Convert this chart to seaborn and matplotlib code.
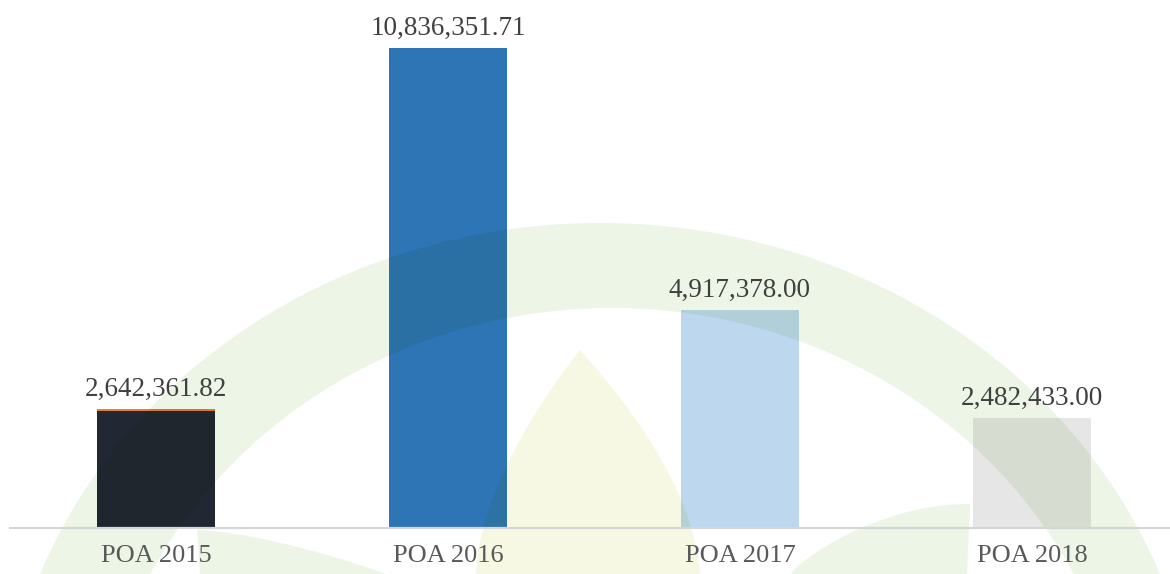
import numpy as np
import pandas as pd
import matplotlib
matplotlib.use("Agg")
import matplotlib.pyplot as plt
from matplotlib.patches import Polygon
from matplotlib.colors import to_rgb
import seaborn as sns

# ---- data ----
categories = ["POA 2015", "POA 2016", "POA 2017", "POA 2018"]
values = [2642361.82, 10836351.71, 4917378.00, 2482433.00]
top_segment = [45000, 0, 0, 0]   # thin orange segment on top of POA 2015
bar_colors = ["#212833", "#2E75B6", "#BDD7EE", "#E6E6E6"]
top_color = "#ED7D31"

W, H = 1170, 574
DPI = 100

sns.set_theme(style="white")
plt.rcParams['font.family'] = ['Liberation Serif', 'DejaVu Serif']

fig = plt.figure(figsize=(W / DPI, H / DPI), dpi=DPI)
fig.patch.set_facecolor("white")

# ---- watermark shapes (pixel coordinates, y downward) ----
green = (237 / 255, 245 / 255, 231 / 255)
yellow = (246 / 255, 248 / 255, 227 / 255)

def ell_arc(cx, cy, a, b, y_end, n=300):
    ang_end = np.arcsin((y_end - cy) / b)
    angs = np.linspace(np.pi - ang_end, 2 * np.pi + ang_end, n)
    return np.column_stack([cx + a * np.cos(angs), cy + b * np.sin(angs)])

outer = ell_arc(600, 771, 600, 548, 576)
inner = ell_arc(612, 800, 520, 492, 576)
band = np.vstack([outer, inner[::-1]])

s = np.linspace(0, 1, 80)
ll_top = np.column_stack([197 + 195 * s, 530 + 46 * s ** 1.5])
ll = np.vstack([ll_top, [[200, 576]]])
lr_top = np.column_stack([790 + 180 * s, 576 - 72 * np.sin(s * np.pi / 2) ** 0.75])
lr = np.vstack([lr_top, [[967, 576]]])
yy = np.linspace(350, 576, 120)
u = (yy - 350) / 226
left_x = 580 - 104 * (1 - (1 - u) ** 1.7)
right_x = 580 + 120 * (1 - (1 - u) ** 1.7)
leaf = np.vstack([np.column_stack([left_x, yy]), np.column_stack([right_x[::-1], yy[::-1]])])

shapes = [(band, green), (ll, green), (lr, green), (leaf, yellow)]

wm_bg = fig.add_axes([0, 0, 1, 1], zorder=0)
wm_bg.set_xlim(0, W)
wm_bg.set_ylim(H, 0)
wm_bg.axis("off")
for pts, col in shapes:
    wm_bg.add_patch(Polygon(pts, closed=True, facecolor=col, linewidth=0))

# ---- main chart ----
ax = fig.add_axes([10 / W, 46 / H, 1160 / W, 528 / H], zorder=1)
ax.patch.set_alpha(0)

df = pd.DataFrame({"cat": categories, "val": values})
sns.barplot(data=df, x="cat", y="val", hue="cat", palette=bar_colors,
            legend=False, width=0.404, saturation=1, linewidth=0, ax=ax, zorder=2)
ax.bar(np.arange(len(categories)), top_segment, bottom=values,
       width=0.404, color=top_color, zorder=2, linewidth=0)

ax.set_xlim(-0.5, 3.473)
ax.set_ylim(0, 11.92e6)
ax.set_xlabel("")
ax.set_ylabel("")
ax.set_yticks([])
for sp in ["top", "right", "left"]:
    ax.spines[sp].set_visible(False)
ax.spines["bottom"].set_color("#D6D6D6")
ax.spines["bottom"].set_linewidth(1.6)
ax.spines["bottom"].set_zorder(4)
ax.tick_params(axis="x", length=0, pad=12, labelsize=19, labelcolor="#595959")

for i, (v, t) in enumerate(zip(values, top_segment)):
    ax.annotate(f"{v:,.2f}", xy=(i, v + t), xytext=(0, 5), textcoords="offset points",
                ha="center", va="bottom", fontsize=19.5, color="#404040", zorder=5)

# ---- watermark blended (multiply) over the bars, below the axis line ----
bar_patches = list(ax.patches)
for bp in bar_patches:
    bc = np.array(to_rgb(bp.get_facecolor()))
    for pts, col in shapes:
        mc = tuple(bc * np.array(col))
        poly = Polygon(pts, closed=True, facecolor=mc, linewidth=0,
                       transform=wm_bg.transData, zorder=3)
        ax.add_artist(poly)
        poly.set_clip_path(bp)

fig.savefig("out.png", dpi=DPI, facecolor="white")
